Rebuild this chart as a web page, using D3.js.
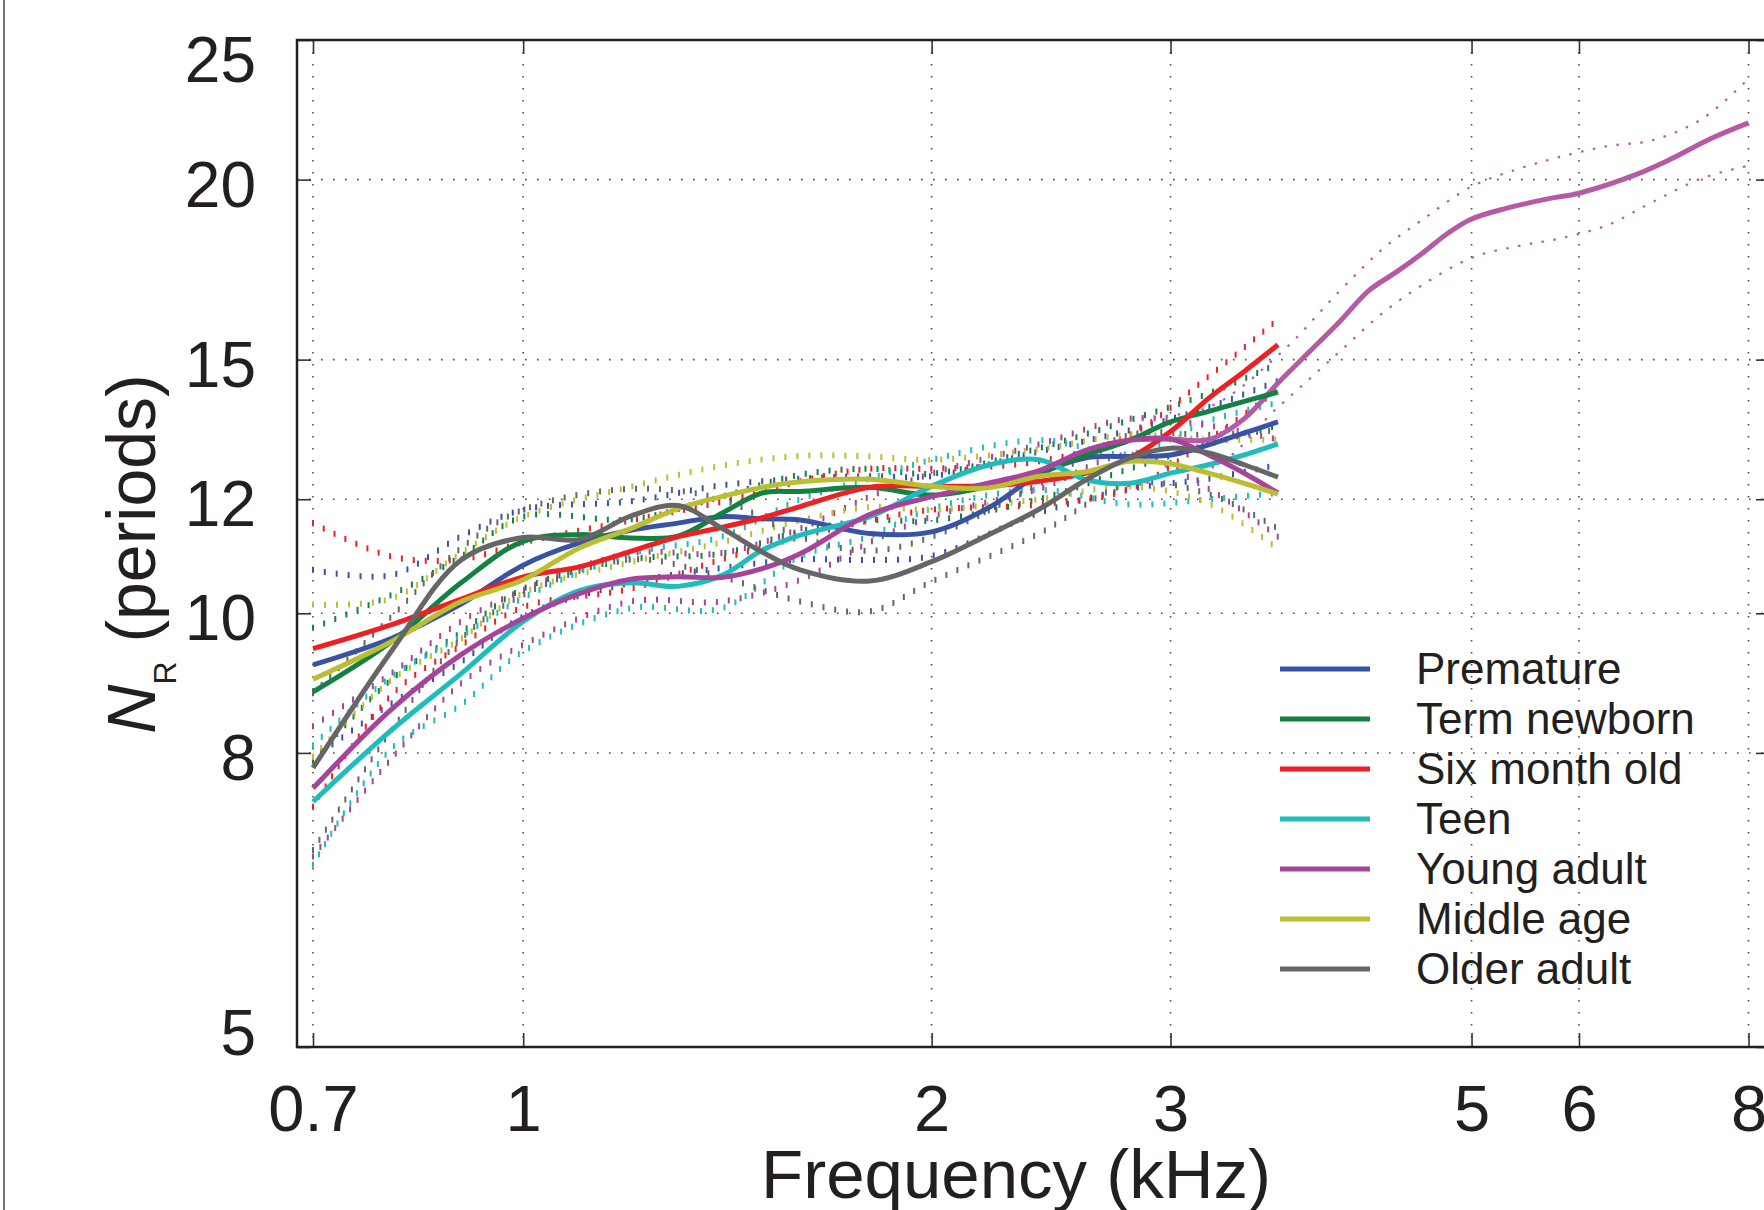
<!DOCTYPE html>
<html>
<head>
<meta charset="utf-8">
<script src="https://cdn.jsdelivr.net/npm/d3@7"></script>
<style>
  html, body { margin: 0; padding: 0; background: #fff; }
  svg { display: block; font-family: "Liberation Sans", Arial, Helvetica, sans-serif; }
</style>
</head>
<body>
<svg id="chart" width="1764" height="1210"></svg>
<script>
// ---- data ----
const groups = ["Premature", "Term newborn", "Six month old", "Teen", "Young adult", "Middle age", "Older adult"];

const xTicks = [0.7, 1, 2, 3, 5, 6, 8];
const yTicks = [5, 8, 10, 12, 15, 20, 25];

// mean curves, kHz
const freqMean = [0.7, 0.8, 0.9, 1.0, 1.1, 1.2, 1.3, 1.4, 1.5, 1.6, 1.8, 2.0, 2.2, 2.4, 2.6, 2.8, 3.0, 3.2, 3.4, 3.6];
const premature   = [9.21, 9.61, 10.15, 10.8, 11.19, 11.42, 11.55, 11.67, 11.63, 11.61, 11.36, 11.39, 11.83, 12.48, 12.82, 12.85, 12.88, 13.09, 13.34, 13.58];
const termNewborn = [8.82, 9.56, 10.5, 11.22, 11.34, 11.28, 11.31, 11.73, 12.12, 12.15, 12.23, 12.08, 12.25, 12.54, 12.88, 13.19, 13.58, 13.81, 14.03, 14.24];
const sixMonth    = [9.45, 9.82, 10.23, 10.6, 10.77, 11.04, 11.3, 11.47, 11.65, 11.86, 12.23, 12.25, 12.26, 12.35, 12.51, 12.82, 13.37, 14.1, 14.72, 15.36];
const teen        = [7.4, 8.3, 9.08, 9.87, 10.37, 10.5, 10.44, 10.62, 11.06, 11.33, 11.67, 12.25, 12.67, 12.78, 12.38, 12.31, 12.51, 12.68, 12.88, 13.11];
const youngAdult  = [7.56, 8.58, 9.36, 9.92, 10.32, 10.56, 10.6, 10.59, 10.74, 11.0, 11.71, 12.05, 12.31, 12.56, 12.98, 13.19, 13.21, 12.88, 12.51, 12.12];
const middleAge   = [9.0, 9.56, 10.19, 10.55, 11.1, 11.45, 11.82, 12.05, 12.23, 12.34, 12.39, 12.25, 12.22, 12.45, 12.54, 12.75, 12.7, 12.51, 12.31, 12.1];
const olderAdult  = [7.81, 9.42, 10.89, 11.29, 11.25, 11.68, 11.88, 11.46, 11.03, 10.72, 10.53, 10.86, 11.33, 11.81, 12.38, 12.82, 13.02, 12.92, 12.68, 12.43];

// young adult data that continues up to 8 kHz
const freqExt = [2.8, 3.0, 3.2, 3.4, 3.6, 3.8, 4.0, 4.2, 4.4, 4.6, 4.8, 5.0, 5.3, 5.7, 6.0, 6.6, 7.0, 7.5, 8.0];
const youngAdultExt = [13.19, 13.21, 13.2, 13.65, 14.45, 15.2, 15.95, 16.75, 17.25, 17.78, 18.35, 18.78, 19.1, 19.4, 19.57, 20.15, 20.65, 21.35, 21.9];

// dotted confidence bounds
const freqBand = [0.7, 0.8, 0.9, 1.0, 1.2, 1.4, 1.6, 1.8, 2.0, 2.4, 2.8, 3.2, 3.6];
const prematureHi   = [10.72, 10.63, 11.31, 11.8, 11.96, 12.27, 12.4, 12.45, 12.45, 12.95, 13.4, 13.9, 14.5];
const prematureLo   = [7.93, 8.66, 9.25, 9.95, 10.5, 10.75, 10.9, 10.89, 10.96, 11.74, 12.2, 12.4, 12.68];
const termNewbornHi = [9.77, 10.3, 10.95, 11.67, 11.62, 12.05, 12.48, 12.6, 12.5, 13.02, 13.62, 14.21, 14.9];
const termNewbornLo = [7.9, 9.0, 9.7, 10.4, 10.9, 11.0, 11.4, 11.6, 11.6, 12.0, 12.6, 13.1, 13.5];
const sixMonthHi    = [11.55, 10.95, 10.9, 11.2, 11.6, 11.95, 12.35, 12.6, 12.6, 12.75, 13.3, 14.6, 16.0];
const sixMonthLo    = [7.34, 8.78, 9.5, 10.1, 10.4, 10.9, 11.3, 11.6, 11.8, 11.9, 12.2, 13.2, 14.3];
const teenHi        = [8.1, 9.04, 9.64, 10.25, 11.0, 11.3, 12.0, 12.4, 12.78, 13.19, 12.9, 13.6, 14.0];
const teenLo        = [6.69, 8.06, 8.64, 9.41, 10.08, 10.08, 10.95, 11.31, 11.82, 12.18, 11.9, 12.0, 12.12];
const youngAdultHi  = [8.35, 9.09, 9.87, 10.38, 11.01, 11.01, 11.45, 12.05, 12.5, 13.1, 13.65, 13.5, 13.2];
const youngAdultLo  = [6.78, 7.93, 8.94, 9.51, 10.19, 10.19, 10.55, 11.2, 11.67, 12.2, 12.88, 12.2, 11.3];
const middleAgeHi   = [10.14, 10.24, 11.01, 11.67, 12.24, 12.66, 12.86, 12.85, 12.78, 13.0, 13.3, 13.2, 13.2];
const middleAgeLo   = [7.95, 8.99, 9.6, 10.33, 10.85, 11.2, 11.6, 11.85, 11.8, 12.0, 12.25, 11.92, 11.08];
const olderAdultHi  = [8.8, 9.95, 11.1, 11.8, 12.2, 12.0, 11.3, 11.05, 11.3, 12.3, 13.3, 13.3, 13.4];
const olderAdultLo  = [6.85, 8.3, 9.6, 10.3, 10.9, 10.6, 10.19, 10.03, 10.52, 11.36, 12.3, 12.1, 11.45];

const freqBandExt = [2.8, 3.2, 3.6, 4.0, 4.3, 4.6, 5.0, 5.4, 5.8, 6.3, 6.8, 7.4, 8.0];
const youngAdultExtHi = [13.65, 13.9, 15.1, 16.75, 17.9, 18.76, 19.78, 20.33, 20.73, 21.1, 21.3, 22.05, 23.5];
const youngAdultExtLo = [12.88, 12.6, 13.9, 15.2, 16.16, 16.9, 17.65, 17.98, 18.2, 18.6, 19.3, 20.05, 20.45];

// ---- styles ----
const colors = ["#3953a4", "#138141", "#ed2024", "#1fbcbd", "#a6449b", "#bcbe32", "#666666"];
const extColor = "#b65aa6";
const ink = "#231f20";

const means = [premature, termNewborn, sixMonth, teen, youngAdult, middleAge, olderAdult];
const highs = [prematureHi, termNewbornHi, sixMonthHi, teenHi, youngAdultHi, middleAgeHi, olderAdultHi];
const lows  = [prematureLo, termNewbornLo, sixMonthLo, teenLo, youngAdultLo, middleAgeLo, olderAdultLo];

const zip = (xs, ys) => xs.map((f, i) => [f, ys[i]]);

// ---- layout ----
const svg = d3.select("#chart");
const box = {left: 297, right: 1770, top: 40, bottom: 1047};

const x = d3.scaleLog().domain([0.7, 8]).range([313, 1748.5]);
const y = d3.scaleLog().domain([5, 25]).range([box.bottom, box.top]);

svg.append("rect").attr("width", 1764).attr("height", 1210).attr("fill", "#fff");

// left edge of the original figure frame
svg.append("line")
  .attr("x1", 4).attr("x2", 4).attr("y1", 0).attr("y2", 1210)
  .attr("stroke", "#444").attr("stroke-width", 1.5);

svg.append("defs").append("clipPath").attr("id", "plot-clip")
  .append("rect")
  .attr("x", box.left).attr("y", box.top)
  .attr("width", box.right - box.left).attr("height", box.bottom - box.top);

// dotted grid
let grid = svg.append("g").attr("stroke", "#4a4a4a").attr("stroke-width", 1.6)
  .attr("stroke-dasharray", "1.6 10.4");

grid.selectAll("line.vx").data(xTicks).join("line")
  .attr("class", "vx")
  .attr("x1", d => x(d)).attr("x2", d => x(d))
  .attr("y1", box.top).attr("y2", box.bottom);

grid.selectAll("line.hy").data(yTicks).join("line")
  .attr("class", "hy")
  .attr("x1", box.left).attr("x2", box.right)
  .attr("y1", d => y(d)).attr("y2", d => y(d));

const line = d3.line()
  .x(d => x(d[0]))
  .y(d => y(d[1]))
  .curve(d3.curveCatmullRom.alpha(0.5));

let plot = svg.append("g").attr("clip-path", "url(#plot-clip)");

// helper path used to sample points along a curve
let probe = svg.append("path").attr("fill", "none").attr("stroke", "none");

// dotted bounds, drawn as little upright strokes like the original
function tickedBound(pts, color) {
  probe.attr("d", line(pts));
  let node = probe.node();
  let len = node.getTotalLength();
  let marks = [];
  for (let l = 0; l <= len; l += 12) marks.push(node.getPointAtLength(l));
  plot.append("g")
    .selectAll("line").data(marks).join("line")
    .attr("x1", p => p.x).attr("x2", p => p.x)
    .attr("y1", p => p.y - 3).attr("y2", p => p.y + 3)
    .attr("stroke", color).attr("stroke-width", 2);
}

groups.forEach((g, i) => {
  tickedBound(zip(freqBand, highs[i]), colors[i]);
  tickedBound(zip(freqBand, lows[i]), colors[i]);
});

[youngAdultExtHi, youngAdultExtLo].forEach(b => {
  plot.append("path")
    .attr("d", line(zip(freqBandExt, b)))
    .attr("fill", "none")
    .attr("stroke", extColor)
    .attr("stroke-width", 2.2)
    .attr("stroke-dasharray", "2.5 9.5");
});
probe.remove();

// mean curves
plot.append("path")
  .attr("d", line(zip(freqExt, youngAdultExt)))
  .attr("fill", "none")
  .attr("stroke", extColor)
  .attr("stroke-width", 5)
  .attr("stroke-linejoin", "round");

groups.forEach((g, i) => {
  plot.append("path")
    .attr("d", line(zip(freqMean, means[i])))
    .attr("fill", "none")
    .attr("stroke", colors[i])
    .attr("stroke-width", 5)
    .attr("stroke-linejoin", "round");
});

// ---- axes (inward ticks on all four sides) ----
function styleAxis(sel) {
  sel.select(".domain").remove();
  sel.selectAll(".tick line").attr("stroke", "#333").attr("stroke-width", 1.6);
}

svg.append("g")
  .attr("transform", `translate(0,${box.bottom})`)
  .call(d3.axisBottom(x).tickValues(xTicks).tickFormat(d3.format("~g")).tickSize(-14).tickPadding(38))
  .call(styleAxis)
  .call(g => g.selectAll("text")
    .attr("font-size", 65)
    .attr("font-family", "Liberation Sans, Arial, sans-serif")
    .attr("fill", ink));

svg.append("g")
  .attr("transform", `translate(0,${box.top})`)
  .call(d3.axisTop(x).tickValues(xTicks).tickFormat("").tickSize(-14))
  .call(styleAxis);

svg.append("g")
  .attr("transform", `translate(${box.left},0)`)
  .call(d3.axisLeft(y).tickValues(yTicks).tickFormat("").tickSize(-14))
  .call(styleAxis);

svg.append("g")
  .attr("transform", `translate(${box.right},0)`)
  .call(d3.axisRight(y).tickValues(yTicks).tickFormat("").tickSize(-14))
  .call(styleAxis);

// y tick labels, kept inside the box at the ends like the original
svg.append("g").selectAll("text").data(yTicks).join("text")
  .attr("x", 256)
  .attr("y", d => Math.max(82, Math.min(1055, y(d) + 27)))
  .attr("text-anchor", "end")
  .attr("font-size", 64)
  .attr("fill", ink)
  .text(d => d);

// axes box
svg.append("rect")
  .attr("x", box.left).attr("y", box.top)
  .attr("width", box.right - box.left).attr("height", box.bottom - box.top)
  .attr("fill", "none").attr("stroke", ink).attr("stroke-width", 2.5);

// axis titles
svg.append("text")
  .attr("x", 1016).attr("y", 1198)
  .attr("text-anchor", "middle")
  .attr("font-size", 69)
  .attr("fill", ink)
  .text("Frequency (kHz)");

let yTitle = svg.append("text")
  .attr("transform", "translate(155,554) rotate(-90)")
  .attr("text-anchor", "middle")
  .attr("font-size", 68)
  .attr("fill", ink);
yTitle.append("tspan").attr("font-style", "italic").text("N");
yTitle.append("tspan").attr("font-size", 32).attr("dy", 21).text("R");
yTitle.append("tspan").attr("dy", -21).text(" (periods)");

// legend
let legend = svg.append("g");
let rows = legend.selectAll("g").data(groups).join("g")
  .attr("transform", (d, i) => `translate(0,${669 + i * 50})`);

rows.append("line")
  .attr("x1", 1280).attr("x2", 1370)
  .attr("stroke", (d, i) => colors[i])
  .attr("stroke-width", 5);

rows.append("text")
  .attr("x", 1416).attr("y", 15)
  .attr("font-size", 44)
  .attr("fill", ink)
  .text(d => d);
</script>
</body>
</html>
